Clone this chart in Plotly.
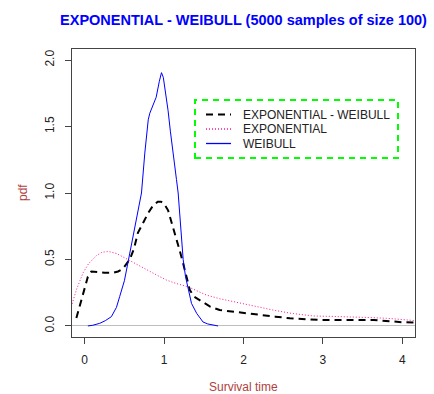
import plotly.graph_objects as go

# ---------------- data ----------------
exp_x = [-0.17, -0.1, -0.02, 0.05, 0.15, 0.22, 0.3, 0.4, 0.48, 0.6, 0.78, 0.9, 1.03, 1.15,
         1.3, 1.53, 1.7, 1.87, 2.1, 2.37, 2.6, 2.88, 3.1, 3.3, 3.55, 3.8, 4.0, 4.17]
exp_y = [0.145, 0.28, 0.40, 0.47, 0.53, 0.555, 0.56, 0.545, 0.52, 0.48, 0.42, 0.385, 0.345, 0.32,
         0.295, 0.233, 0.205, 0.183, 0.15, 0.12, 0.095, 0.075, 0.072, 0.07, 0.064, 0.058, 0.05, 0.04]

ew_x = [-0.105, -0.05, 0.0, 0.04, 0.084, 0.15, 0.25, 0.357, 0.42, 0.48, 0.567, 0.62, 0.67, 0.74,
        0.80, 0.86, 0.92, 0.96, 1.0, 1.05, 1.1, 1.156, 1.2, 1.24, 1.28, 1.324, 1.38, 1.45, 1.58,
        1.70, 1.87, 2.0, 2.2, 2.4, 2.585, 2.8, 2.96, 3.2, 3.38, 3.5, 3.64, 3.75, 3.89, 4.0, 4.17]
ew_y = [0.06, 0.17, 0.28, 0.37, 0.41, 0.405, 0.40, 0.40, 0.41, 0.43, 0.50, 0.58, 0.70, 0.78,
        0.85, 0.905, 0.935, 0.935, 0.92, 0.87, 0.77, 0.65, 0.56, 0.47, 0.37, 0.27, 0.22, 0.195, 0.145,
        0.12, 0.107, 0.10, 0.083, 0.07, 0.058, 0.05, 0.045, 0.045, 0.045, 0.048, 0.045, 0.04, 0.032, 0.028, 0.025]

wei_x = [0.04, 0.1, 0.19, 0.26, 0.336, 0.4, 0.44, 0.5, 0.546, 0.6, 0.65, 0.69, 0.715, 0.757, 0.80,
         0.82, 0.86, 0.9, 0.94, 0.967, 0.99, 1.02, 1.05, 1.08, 1.11, 1.156, 1.177, 1.21, 1.24, 1.27,
         1.30, 1.345, 1.41, 1.49, 1.55, 1.62, 1.68]
wei_y = [0.0, 0.005, 0.02, 0.04, 0.07, 0.14, 0.22, 0.34, 0.48, 0.65, 0.82, 0.92, 1.0, 1.30, 1.55,
         1.60, 1.66, 1.72, 1.84, 1.905, 1.87, 1.76, 1.62, 1.46, 1.30, 1.10, 1.0, 0.72, 0.5, 0.37,
         0.29, 0.17, 0.095, 0.03, 0.015, 0.005, 0.0]

x_ticks = [0, 1, 2, 3, 4]
y_ticks = [0.0, 0.5, 1.0, 1.5, 2.0]
y_tick_labels = ["0.0", "0.5", "1.0", "1.5", "2.0"]

legend_labels = ["EXPONENTIAL - WEIBULL", "EXPONENTIAL", "WEIBULL"]

# ---------------- layout geometry ----------------
W, H = 434, 394
L, R, T, B = 72, 19, 49, 57
PW, PH = W - L - R, H - T - B
FONT = "Liberation Sans, Arial, sans-serif"
BROWN = "#B0413E"


def px(x):
    return (x - L) / PW


def py(y):
    return (H - B - y) / PH


fig = go.Figure()
fig.add_trace(go.Scatter(x=exp_x, y=exp_y, mode="lines", name=legend_labels[1],
                         line=dict(color="#FF1493", width=1, dash="1px,2px"), showlegend=False))
fig.add_trace(go.Scatter(x=ew_x, y=ew_y, mode="lines", name=legend_labels[0],
                         line=dict(color="black", width=2, dash="7px,5px"), showlegend=False))
fig.add_trace(go.Scatter(x=wei_x, y=wei_y, mode="lines", name=legend_labels[2],
                         line=dict(color="#0000FF", width=1), showlegend=False))

# manual legend (R style) with green dashed box
shapes = [dict(type="rect", xref="paper", yref="paper",
               x0=px(195), x1=px(398), y0=py(158), y1=py(100),
               line=dict(color="#00FF00", width=2, dash="6px,5px"))]
leg_styles = [dict(color="black", width=2, dash="7px,5px"),
              dict(color="#FF1493", width=1.3, dash="1px,2px"),
              dict(color="#0000FF", width=1.3)]
rows = [114.5, 129, 143.5]
annotations = []
for lab, sty, ry in zip(legend_labels, leg_styles, rows):
    shapes.append(dict(type="line", xref="paper", yref="paper",
                       x0=px(206), x1=px(231), y0=py(ry), y1=py(ry), line=sty))
    annotations.append(dict(text=lab, xref="paper", yref="paper", x=px(241), y=py(ry),
                            xanchor="left", yanchor="middle", showarrow=False,
                            font=dict(family=FONT, size=12, color="#222")))

annotations.append(dict(text="pdf", xref="paper", yref="paper", x=0, y=0.5,
                        xanchor="center", yanchor="middle", xshift=-(L - 23), textangle=-90,
                        showarrow=False, font=dict(family=FONT, size=12, color=BROWN)))
annotations.append(dict(text="Survival time", xref="paper", yref="paper", x=0.5, y=0,
                        xanchor="center", yanchor="middle", yshift=-(387 - (H - B)),
                        showarrow=False, font=dict(family=FONT, size=12, color=BROWN)))

fig.update_layout(
    width=W, height=H,
    margin=dict(l=L, r=R, t=T, b=B, pad=0),
    paper_bgcolor="white", plot_bgcolor="white",
    title=dict(text="<b>EXPONENTIAL - WEIBULL (5000 samples of size 100)</b>",
               xref="paper", x=0.5, xanchor="center", y=1 - 20 / H, yanchor="middle",
               font=dict(family=FONT, size=14.5, color="#0000FF")),
    shapes=shapes, annotations=annotations,
    xaxis=dict(range=[-0.16, 4.16], tickvals=x_ticks, ticks="outside", ticklen=6,
               tickcolor="#444", showgrid=False, zeroline=False, showline=True,
               linecolor="#444", linewidth=1, mirror=True, ticklabelstandoff=6,
               tickfont=dict(family=FONT, size=12, color="#222")),
    yaxis=dict(range=[-0.083, 2.083], tickvals=y_ticks, ticktext=y_tick_labels,
               ticks="outside", ticklen=6, tickcolor="#444", tickangle=-90,
               showgrid=False, zeroline=True, zerolinecolor="#BEBEBE", zerolinewidth=1,
               showline=True, linecolor="#444", linewidth=1, mirror=True, ticklabelstandoff=6,
               tickfont=dict(family=FONT, size=12, color="#222")),
)

fig.write_html("out.html")
